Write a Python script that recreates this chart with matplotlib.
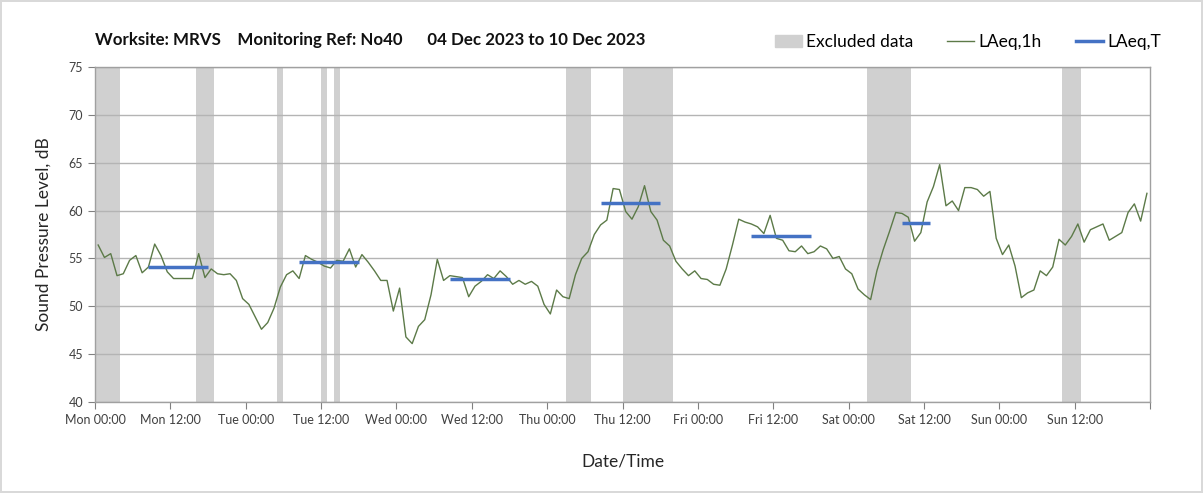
import matplotlib
matplotlib.use("Agg")
import matplotlib.pyplot as plt
import matplotlib.dates as mdates
import pandas as pd

plt.rcParams['font.family'] = ['Lato', 'DejaVu Sans']

# hourly LAeq,1h values, Mon 04 Dec 00:30 onwards
laeq_1h = [
    56.4, 55.1, 55.5, 53.2, 53.4, 54.8, 55.3, 53.5, 54.1, 56.5, 55.3, 53.6,
    52.9, 52.9, 52.9, 52.9, 55.5, 53.0, 53.9, 53.4, 53.3, 53.4, 52.7, 50.8,
    50.2, 48.9, 47.6, 48.3, 49.8, 52.0, 53.3, 53.7, 52.9, 55.3, 54.9, 54.6,
    54.2, 54.0, 54.8, 54.7, 56.0, 54.1, 55.4, 54.6, 53.7, 52.7, 52.7, 49.5,
    51.9, 46.8, 46.1, 47.9, 48.6, 51.2, 54.9, 52.7, 53.2, 53.1, 53.0, 51.0,
    52.1, 52.6, 53.3, 52.9, 53.7, 53.1, 52.3, 52.7, 52.3, 52.6, 52.1, 50.2,
    49.2, 51.7, 51.0, 50.8, 53.3, 55.0, 55.7, 57.5, 58.5, 59.0, 62.3, 62.2,
    59.9, 59.1, 60.4, 62.6, 59.9, 59.0, 56.9, 56.3, 54.7, 53.9, 53.2, 53.7,
    52.9, 52.8, 52.3, 52.2, 53.9, 56.4, 59.1, 58.8, 58.6, 58.3, 57.6, 59.5,
    57.1, 56.9, 55.8, 55.7, 56.3, 55.5, 55.7, 56.3, 56.0, 55.0, 55.2, 53.9,
    53.4, 51.8, 51.2, 50.7, 53.7, 55.9, 57.8, 59.8, 59.7, 59.3, 56.8, 57.7,
    60.9, 62.5, 64.8, 60.5, 61.0, 60.0, 62.4, 62.4, 62.2, 61.5, 62.0, 57.1,
    55.4, 56.4, 54.2, 50.9, 51.4, 51.7, 53.7, 53.2, 54.1, 57.0, 56.4, 57.3,
    58.6, 56.7, 58.0, 58.3, 58.6, 56.9, 57.3, 57.7, 59.8, 60.7, 58.9, 61.8,
]
times = pd.date_range('2023-12-04 00:30', periods=len(laeq_1h), freq='h')

# daytime LAeq,T periods
period_start = ['2023-12-04 08:30', '2023-12-05 08:30', '2023-12-06 08:30',
                '2023-12-07 08:30', '2023-12-08 08:30', '2023-12-09 08:30']
period_end = ['2023-12-04 18:00', '2023-12-05 18:00', '2023-12-06 18:00',
              '2023-12-07 18:00', '2023-12-08 18:00', '2023-12-09 13:00']
laeq_t = [54.1, 54.6, 52.8, 60.8, 57.3, 58.7]

# excluded data windows
excl_start = ['2023-12-04 00:00', '2023-12-04 16:00', '2023-12-05 05:00',
              '2023-12-05 12:00', '2023-12-05 14:00', '2023-12-07 03:00',
              '2023-12-07 12:00', '2023-12-09 03:00', '2023-12-10 10:00']
excl_end = ['2023-12-04 04:00', '2023-12-04 19:00', '2023-12-05 06:00',
            '2023-12-05 13:00', '2023-12-05 15:00', '2023-12-07 07:00',
            '2023-12-07 20:00', '2023-12-09 10:00', '2023-12-10 13:00']

fig = plt.figure(figsize=(12.03, 4.93), dpi=100)
fig.patch.set_edgecolor('#d9d9d9')
fig.patch.set_linewidth(1.5)
ax = fig.add_axes([0.079, 0.1846, 0.877, 0.6795])

for s, e in zip(excl_start, excl_end):
    ax.axvspan(pd.Timestamp(s), pd.Timestamp(e), color='#d0d0d0', lw=0, zorder=0.2)

ax.plot(times, laeq_1h, color='#5c7a48', lw=1.0, zorder=3)
for s, e, v in zip(period_start, period_end, laeq_t):
    ax.plot([pd.Timestamp(s), pd.Timestamp(e)], [v, v], color='#4472c4', lw=2.5,
            solid_capstyle='butt', zorder=4)

ax.set_xlim(pd.Timestamp('2023-12-04 00:00'), pd.Timestamp('2023-12-11 00:00'))
ax.set_ylim(40, 75)
ax.set_yticks(range(40, 76, 5))
ax.xaxis.set_major_locator(mdates.HourLocator(byhour=[0, 12]))
fmt = mdates.DateFormatter('%a %H:%M')
ax.xaxis.set_major_formatter(lambda x, pos: '' if x >= ax.get_xlim()[1] - 0.01 else fmt(x))
ax.xaxis.set_minor_locator(mdates.DayLocator())
ax.set_axisbelow(True)
ax.grid(axis='y', color='#b4b4b4', lw=1.0)
ax.grid(axis='x', which='minor', color='#e3e3e3', lw=1.5)
ax.tick_params(axis='x', which='minor', length=0)
ax.tick_params(axis='both', which='major', colors='#808080', labelcolor='#404040',
               labelsize=9, length=5, direction='out')
for sp in ax.spines.values():
    sp.set_color('#a0a0a0')
    sp.set_linewidth(1.0)

ax.set_ylabel('Sound Pressure Level, dB', fontsize=12.5, color='#262626', labelpad=12)
ax.set_xlabel('Date/Time', fontsize=12.5, color='#262626', labelpad=20)

fig.text(0.079, 0.918, 'Worksite: MRVS    Monitoring Ref: No40      04 Dec 2023 to 10 Dec 2023',
         fontsize=12.2, fontweight='bold', color='#111111', va='center')

handles = [
    plt.Rectangle((0, 0), 1, 1, color='#d0d0d0'),
    plt.Line2D([], [], color='#5c7a48', lw=1.0),
    plt.Line2D([], [], color='#4472c4', lw=2.5),
]
fig.legend(handles, ['Excluded data', 'LAeq,1h', 'LAeq,T'], ncol=3, frameon=False,
           loc='center right', bbox_to_anchor=(0.972, 0.914), fontsize=12.5,
           handlelength=1.55, handleheight=0.7, handletextpad=0.25, columnspacing=1.95,
           borderpad=0)

fig.savefig('out.png', dpi=100)
